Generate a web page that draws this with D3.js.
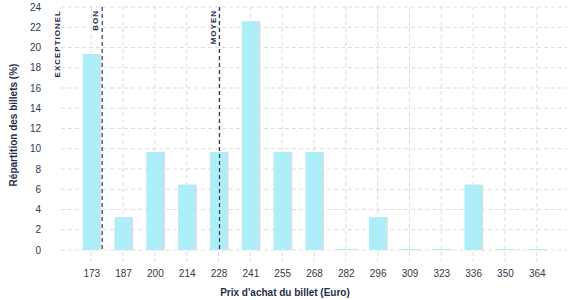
<!DOCTYPE html>
<html>
<head>
<meta charset="utf-8">
<script src="https://cdn.jsdelivr.net/npm/d3@7"></script>
<style>
  body { margin: 0; background: #fff; }
  text { font-family: "Liberation Sans", Arial, sans-serif; }
</style>
</head>
<body>
<div id="chart"></div>
<script>
// prix (Euro) par classe
var prices = ["173", "187", "200", "214", "228", "241", "255", "268", "282", "296", "309", "323", "336", "350", "364"];
// repartition des billets (%)
var shares = [19.35, 3.23, 9.68, 6.45, 9.68, 22.58, 9.68, 9.68, 0.1, 3.23, 0.1, 0.1, 6.45, 0.1, 0.1];
var yTicks = [0, 2, 4, 6, 8, 10, 12, 14, 16, 18, 20, 22, 24];
// seuils de qualite du prix
var thresholdNames = ["EXCEPTIONEL", "BON", "MOYEN"];
var thresholdPrices = [161.5, 177.7, 228];

var width = 577, height = 300;
var margin = {top: 7, right: 10, bottom: 50, left: 61};
var innerW = width - margin.left - margin.right;
var innerH = height - margin.top - margin.bottom;

var svg = d3.select("#chart").append("svg")
  .attr("width", width)
  .attr("height", height);

var g = svg.append("g")
  .attr("transform", "translate(" + margin.left + "," + margin.top + ")");

var x = d3.scalePoint()
  .domain(prices)
  .range([0, innerW])
  .padding(0.95);

var barW = x.step() * 0.54;

var y = d3.scaleLinear()
  .domain([0, 24])
  .range([innerH, 0]);

// prix continu -> position, pour les seuils
var xPrice = d3.scaleLinear()
  .domain([+prices[0], +prices[prices.length - 1]])
  .range([x(prices[0]), x(prices[prices.length - 1])]);

// grille horizontale
g.append("g")
  .selectAll("line")
  .data(yTicks)
  .enter().append("line")
  .attr("x1", 0)
  .attr("x2", innerW)
  .attr("y1", function(d) { return y(d); })
  .attr("y2", function(d) { return y(d); })
  .attr("stroke", "#dddddd")
  .attr("stroke-dasharray", "4,3");

// grille verticale
g.append("g")
  .selectAll("line")
  .data(prices)
  .enter().append("line")
  .attr("x1", function(d) { return x(d); })
  .attr("x2", function(d) { return x(d); })
  .attr("y1", 0)
  .attr("y2", innerH + 12)
  .attr("stroke", "#dddddd")
  .attr("stroke-dasharray", "4,3");

// axe y
var yAxis = g.append("g")
  .attr("transform", "translate(-20,0)")
  .call(d3.axisLeft(y).tickValues(yTicks).tickSize(0).tickPadding(0));
yAxis.select(".domain").remove();
yAxis.selectAll("text")
  .attr("font-size", 10)
  .attr("fill", "#2f3a52");

// axe x
var xAxis = g.append("g")
  .attr("transform", "translate(0," + (innerH + 20) + ")")
  .call(d3.axisBottom(x).tickSize(0).tickPadding(0));
xAxis.select(".domain").remove();
xAxis.selectAll("text")
  .attr("font-size", 10)
  .attr("fill", "#2f3a52");

// barres (ombre puis barre)
var bars = g.append("g").selectAll("g")
  .data(prices)
  .enter().append("g");

bars.append("rect")
  .attr("x", function(d) { return x(d) - barW / 2 + 1.5; })
  .attr("y", function(d, i) { return y(shares[i]); })
  .attr("width", barW)
  .attr("height", function(d, i) { return innerH - y(shares[i]); })
  .attr("fill", "#dcdcdc");

bars.append("rect")
  .attr("x", function(d) { return x(d) - barW / 2; })
  .attr("y", function(d, i) { return y(shares[i]); })
  .attr("width", barW)
  .attr("height", function(d, i) { return innerH - y(shares[i]); })
  .attr("fill", "#aeeef8");

// seuils
thresholdNames.forEach(function(name, i) {
  var px = xPrice(thresholdPrices[i]);
  if (px > 5) {
    g.append("line")
      .attr("x1", px).attr("x2", px)
      .attr("y1", 0).attr("y2", innerH)
      .attr("stroke", "#2d3a5a")
      .attr("stroke-width", 1.2)
      .attr("stroke-dasharray", "4,3");
  }
  g.append("text")
    .attr("transform", "translate(" + (px - 4) + ",3) rotate(-90)")
    .attr("text-anchor", "end")
    .attr("font-size", 8)
    .attr("font-weight", "bold")
    .attr("letter-spacing", 1)
    .attr("fill", "#1f2d4d")
    .text(name);
});

// titres des axes
svg.append("text")
  .attr("transform", "translate(17,125) rotate(-90)")
  .attr("text-anchor", "middle")
  .attr("font-size", 10)
  .attr("font-weight", "bold")
  .attr("fill", "#1f2d4d")
  .text("Répartition des billets (%)");

svg.append("text")
  .attr("x", 285)
  .attr("y", 296)
  .attr("text-anchor", "middle")
  .attr("font-size", 10)
  .attr("font-weight", "bold")
  .attr("fill", "#1f2d4d")
  .text("Prix d'achat du billet (Euro)");
</script>
</body>
</html>
